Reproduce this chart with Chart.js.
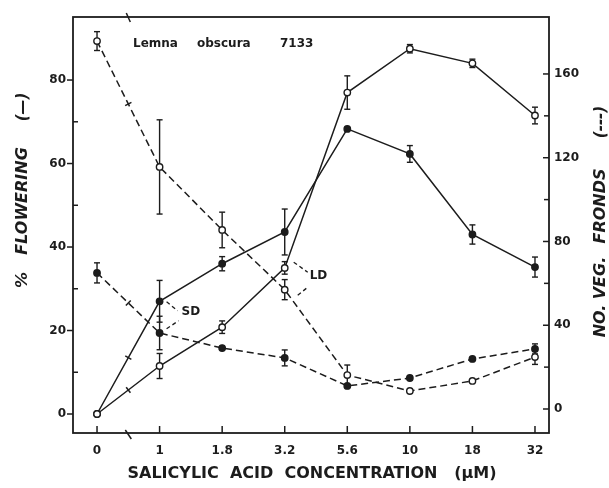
<!DOCTYPE html>
<html>
<head>
<meta charset="utf-8">
<title>Salicylic acid - Lemna obscura 7133</title>
<script src="https://cdn.jsdelivr.net/npm/chart.js@4.4.1/dist/chart.umd.min.js"></script>
<style>
  html, body { margin: 0; padding: 0; background: #fff; }
  #wrap { width: 609px; height: 488px; }
</style>
</head>
<body>
<div id="wrap"><canvas id="saChart" width="609" height="488"></canvas></div>
<script>
// x categories, salicylic acid (uM)
const categories = ['0', '1', '1.8', '3.2', '5.6', '10', '18', '32'];

// % flowering (left axis, solid lines)
const ldFlowering    = [0, 11.5, 20.8, 35, 77, 87.5, 84, 71.5];
const ldFloweringErr = [null, 3, 1.5, 1.5, 4, 1, 1, 2];
const sdFlowering    = [0, 27, 36, 43.6, 68.3, 62.3, 43, 35.2];
const sdFloweringErr = [null, 5, 1.7, 5.5, null, 2, 2.3, 2.4];

// no. of vegetative fronds (right axis, dashed lines)
const ldFronds    = [175.7, 115.6, 85.5, 57, 16.2, 8.6, 13.4, 24.8];
const ldFrondsErr = [4.5, 22.5, 8.5, 4.8, 4.8, null, null, 3.5];
const sdFronds    = [65, 36.3, 29.1, 24.4, 11, 14.8, 23.9, 28.7];
const sdFrondsErr = [4.8, 8, null, 3.8, null, null, null, 2.4];

// axis ticks
const flowerTicks = [0, 20, 40, 60, 80];
const flowerMinor = [10, 30, 50, 70];
const frondTicks  = [0, 40, 80, 120, 160];
const frondMinor  = [20, 60, 100, 140];

const INK = '#1c1c1c';
const FONT = 'DejaVu Sans';

function toPoints(values) {
    return values.map((v, i) => ({ x: i, y: v }));
}

function series(label, values, errors, axis, filled, dashed) {
    return {
        label: label,
        data: toPoints(values),
        errors: errors,
        yAxisID: axis,
        borderColor: INK,
        borderWidth: 1.5,
        borderDash: dashed ? [7, 4] : [],
        pointRadius: 3.2,
        pointBorderWidth: 1.4,
        pointBorderColor: INK,
        pointBackgroundColor: filled ? INK : '#fff',
        tension: 0,
        fill: false
    };
}

function line(ctx, x1, y1, x2, y2) {
    ctx.beginPath();
    ctx.moveTo(x1, y1);
    ctx.lineTo(x2, y2);
    ctx.stroke();
}

// error bars, frame, tick marks, axis breaks and all the lettering
const decorations = {
    id: 'decorations',
    beforeDatasetsDraw(chart) {
        const ctx = chart.ctx;
        const xs = chart.scales.x;
        ctx.save();
        ctx.strokeStyle = INK;
        ctx.lineWidth = 1.4;
        chart.data.datasets.forEach(ds => {
            const ys = chart.scales[ds.yAxisID];
            ds.errors.forEach((e, i) => {
                if (e == null) return;
                const v = ds.data[i].y;
                const px = xs.getPixelForValue(i);
                const top = ys.getPixelForValue(v + e);
                const bot = ys.getPixelForValue(v - e);
                line(ctx, px, top, px, bot);
                line(ctx, px - 3, top, px + 3, top);
                line(ctx, px - 3, bot, px + 3, bot);
            });
        });
        ctx.restore();
    },
    afterDatasetsDraw(chart) {
        const ctx = chart.ctx;
        const { left, right, top, bottom } = chart.chartArea;
        const xs = chart.scales.x, yL = chart.scales.yL, yR = chart.scales.yR;
        ctx.save();
        ctx.strokeStyle = INK;
        ctx.fillStyle = INK;

        // frame
        ctx.lineWidth = 1.8;
        ctx.strokeRect(left, top, right - left, bottom - top);

        // tick marks
        ctx.lineWidth = 1.5;
        flowerTicks.forEach(v => { const p = yL.getPixelForValue(v); line(ctx, left - 6, p, left, p); });
        flowerMinor.forEach(v => { const p = yL.getPixelForValue(v); line(ctx, left, p, left + 5, p); });
        frondTicks.forEach(v => { const p = yR.getPixelForValue(v); line(ctx, right - 6, p, right, p); });
        frondMinor.forEach(v => { const p = yR.getPixelForValue(v); line(ctx, right - 5, p, right, p); });
        categories.forEach((c, i) => { const p = xs.getPixelForValue(i); line(ctx, p, bottom, p, bottom - 7); });

        // axis break between 0 and 1
        const bx = xs.getPixelForValue(0.5);
        line(ctx, bx - 2, top - 4, bx + 2, top + 5);
        line(ctx, bx - 3, bottom - 3, bx + 3, bottom + 6);
        chart.data.datasets.forEach((ds, di) => {
            const pts = chart.getDatasetMeta(di).data;
            const mx = (pts[0].x + pts[1].x) / 2, my = (pts[0].y + pts[1].y) / 2;
            const dx = pts[1].x - pts[0].x, dy = pts[1].y - pts[0].y;
            const len = Math.hypot(dx, dy);
            const nx = -dy / len * 3.5, ny = dx / len * 3.5;
            line(ctx, mx - nx, my - ny, mx + nx, my + ny);
        });

        // species label
        ctx.font = `bold 12px ${FONT}`;
        ctx.textBaseline = 'alphabetic';
        ctx.textAlign = 'left';
        ctx.fillText('Lemna', left + 60, top + 30);
        ctx.fillText('obscura', left + 124, top + 30);
        ctx.fillText('7133', left + 207, top + 30);

        // SD / LD labels with dashed leaders
        ctx.textBaseline = 'middle';
        ctx.setLineDash([4, 3]);
        ctx.lineWidth = 1.3;
        let tl = xs.getPixelForValue(1) + 22, cy = yL.getPixelForValue(24.5);
        ctx.fillText('SD', tl, cy);
        line(ctx, tl - 15, cy - 10, tl - 4, cy - 1);
        line(ctx, tl - 15, cy + 17, tl - 3, cy + 9);
        tl = xs.getPixelForValue(3) + 25; cy = yL.getPixelForValue(33);
        ctx.fillText('LD', tl, cy);
        line(ctx, tl - 16, cy - 14, tl - 2, cy - 4);
        line(ctx, tl - 12, cy + 19, tl - 2, cy + 11);
        ctx.setLineDash([]);

        // axis titles
        ctx.textAlign = 'center';
        ctx.font = `bold 16px ${FONT}`;
        ctx.fillText('SALICYLIC  ACID  CONCENTRATION   (\u03BCM)', (left + right) / 2 + 1, 474);

        ctx.font = `italic bold 15px ${FONT}`;
        ctx.save();
        ctx.translate(23, 0);
        ctx.rotate(-Math.PI / 2);
        ctx.fillText('(\u2014)', -107, 0);
        ctx.font = `italic bold 16px ${FONT}`;
        ctx.fillText('FLOWERING', -201, 0);
        ctx.fillText('%', -280, 0);
        ctx.restore();

        ctx.save();
        ctx.translate(601, 0);
        ctx.rotate(-Math.PI / 2);
        ctx.font = `italic bold 15px ${FONT}`;
        ctx.fillText('(---)', -122, 0);
        ctx.font = `italic bold 16px ${FONT}`;
        ctx.fillText('FRONDS', -206, 0);
        ctx.fillText('VEG.', -278, 0);
        ctx.fillText('NO.', -321, 0);
        ctx.restore();

        ctx.restore();
    }
};

const tickFont = { family: FONT, size: 12, weight: 'bold' };

const chart = new Chart(document.getElementById('saChart'), {
    type: 'line',
    data: {
        datasets: [
            series('LD flowering', ldFlowering, ldFloweringErr, 'yL', false, false),
            series('SD flowering', sdFlowering, sdFloweringErr, 'yL', true, false),
            series('LD fronds', ldFronds, ldFrondsErr, 'yR', false, true),
            series('SD fronds', sdFronds, sdFrondsErr, 'yR', true, true)
        ]
    },
    options: {
        responsive: false,
        animation: false,
        layout: { padding: { top: 17, left: 0, right: 0, bottom: 0 } },
        plugins: {
            legend: { display: false },
            tooltip: { enabled: false }
        },
        scales: {
            x: {
                type: 'linear',
                min: -0.384,
                max: 7.224,
                afterBuildTicks: s => { s.ticks = categories.map((c, i) => ({ value: i })); },
                afterFit: s => { s.height = 55; },
                ticks: {
                    callback: v => categories[v],
                    font: tickFont, color: INK, padding: 11,
                    autoSkip: false, maxRotation: 0
                },
                grid: { display: false, drawTicks: false },
                border: { display: false }
            },
            yL: {
                type: 'linear',
                position: 'left',
                min: -4.55,
                max: 95.1,
                afterBuildTicks: s => { s.ticks = flowerTicks.map(v => ({ value: v })); },
                afterFit: s => { s.width = 73; },
                ticks: { font: tickFont, color: INK, padding: 7 },
                grid: { display: false, drawTicks: false },
                border: { display: false }
            },
            yR: {
                type: 'linear',
                position: 'right',
                min: -11.46,
                max: 187.2,
                afterBuildTicks: s => { s.ticks = frondTicks.map(v => ({ value: v })); },
                afterFit: s => { s.width = 60; },
                ticks: { font: tickFont, color: INK, padding: 5 },
                grid: { display: false, drawTicks: false },
                border: { display: false }
            }
        }
    },
    plugins: [decorations]
});
</script>
</body>
</html>
